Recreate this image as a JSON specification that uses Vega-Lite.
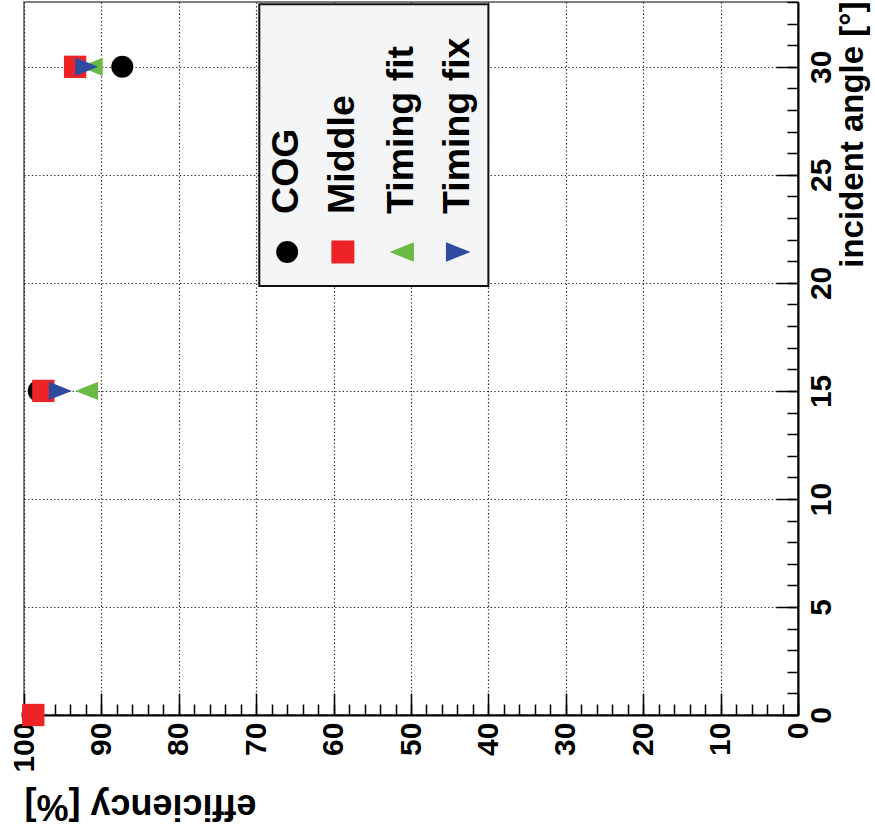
{
  "$schema": "https://vega.github.io/schema/vega-lite/v6.json",
  "width": 774,
  "height": 713,
  "autosize": {"type": "none"},
  "padding": {"left": 24, "top": 2, "right": 77, "bottom": 122},
  "background": "white",
  "config": {
    "view": {"stroke": "#555555", "strokeWidth": 1.5},
    "axis": {
      "labelFont": "Liberation Sans",
      "labelFontWeight": "bold",
      "labelColor": "black",
      "titleFont": "Liberation Sans",
      "titleFontWeight": "bold",
      "titleColor": "black",
      "domainColor": "black",
      "tickColor": "black",
      "labelOverlap": false,
      "labelBound": false,
      "labelFlush": false
    }
  },
  "datasets": {
    "eff": [
      {"angle": 0, "method": "COG", "efficiency": 98.9},
      {"angle": 0, "method": "Middle", "efficiency": 98.8},
      {"angle": 15, "method": "COG", "efficiency": 98.1},
      {"angle": 15, "method": "Middle", "efficiency": 97.5},
      {"angle": 15, "method": "Timing fit", "efficiency": 91.9},
      {"angle": 15, "method": "Timing fix", "efficiency": 95.3},
      {"angle": 30, "method": "COG", "efficiency": 87.3},
      {"angle": 30, "method": "Middle", "efficiency": 93.4},
      {"angle": 30, "method": "Timing fit", "efficiency": 91.3},
      {"angle": 30, "method": "Timing fix", "efficiency": 91.9}
    ]
  },
  "resolve": {"axis": {"x": "independent", "y": "independent"}},
  "layer": [
    {
      "description": "minor ticks only",
      "data": {"name": "eff"},
      "mark": {"type": "point", "opacity": 0},
      "encoding": {
        "x": {
          "field": "efficiency", "type": "quantitative",
          "scale": {"domain": [0, 100], "reverse": true, "nice": false, "zero": false},
          "axis": {
            "orient": "bottom", "title": null, "labels": false, "domain": false, "grid": false,
            "values": [0,2,4,6,8,10,12,14,16,18,20,22,24,26,28,30,32,34,36,38,40,42,44,46,48,50,52,54,56,58,60,62,64,66,68,70,72,74,76,78,80,82,84,86,88,90,92,94,96,98,100],
            "tickSize": -11, "tickWidth": 1.5
          }
        },
        "y": {
          "field": "angle", "type": "quantitative",
          "scale": {"domain": [0, 33], "nice": false, "zero": false},
          "axis": {
            "orient": "right", "title": null, "labels": false, "domain": false, "grid": false,
            "values": [0,1,2,3,4,5,6,7,8,9,10,11,12,13,14,15,16,17,18,19,20,21,22,23,24,25,26,27,28,29,30,31,32,33],
            "tickSize": -11, "tickWidth": 1.5
          }
        }
      }
    },
    {
      "description": "efficiency per method and incident angle",
      "data": {"name": "eff"},
      "mark": {"type": "point", "filled": true, "opacity": 1, "strokeWidth": 0},
      "encoding": {
        "x": {
          "field": "efficiency", "type": "quantitative",
          "axis": {
            "orient": "bottom",
            "values": [0, 10, 20, 30, 40, 50, 60, 70, 80, 90, 100],
            "tickSize": -22, "tickWidth": 1.5,
            "domainWidth": 2,
            "grid": true, "gridColor": "#222222", "gridDash": [1.3, 2.4], "gridWidth": 1.2, "gridOpacity": 1,
            "labelFontSize": 30, "labelAngle": 270, "labelAlign": "right", "labelBaseline": "middle", "labelPadding": 29,
            "title": "efficiency [%]", "titleFontSize": 36, "titleAngle": 180,
            "titleAlign": "right", "titleBaseline": "alphabetic", "titleX": 0, "titleY": 79
          }
        },
        "y": {
          "field": "angle", "type": "quantitative",
          "axis": {
            "orient": "right",
            "values": [0, 5, 10, 15, 20, 25, 30],
            "tickSize": -22, "tickWidth": 1.5,
            "domainWidth": 2,
            "grid": true, "gridColor": "#222222", "gridDash": [1.3, 2.4], "gridWidth": 1.2, "gridOpacity": 1,
            "labelFontSize": 30, "labelAngle": 270, "labelAlign": "center", "labelBaseline": "top", "labelPadding": 30,
            "title": "incident angle [°]", "titleFontSize": 33, "titleAngle": 270,
            "titleAlign": "right", "titleBaseline": "alphabetic", "titleX": 64, "titleY": -1
          }
        },
        "color": {
          "field": "method", "type": "nominal", "legend": null,
          "scale": {"domain": ["COG", "Middle", "Timing fit", "Timing fix"], "range": ["#000000", "#ee2326", "#6bba45", "#2e4b9f"]}
        },
        "shape": {
          "field": "method", "type": "nominal", "legend": null,
          "scale": {"domain": ["COG", "Middle", "Timing fit", "Timing fix"], "range": ["circle", "square", "M1,-0.8L-1,0L1,0.8Z", "M-1,-0.8L1,0L-1,0.8Z"]}
        },
        "size": {
          "field": "method", "type": "nominal", "legend": null,
          "scale": {"domain": ["COG", "Middle", "Timing fit", "Timing fix"], "range": [484, 529, 600, 600]}
        }
      }
    },
    {
      "description": "legend box",
      "data": {"values": [{}]},
      "mark": {"type": "rect", "fill": "#f4f5f7", "stroke": "#111111", "strokeWidth": 2},
      "encoding": {
        "x": {"datum": 69.6, "type": "quantitative", "axis": null},
        "x2": {"datum": 40.0},
        "y": {"datum": 32.9, "type": "quantitative", "axis": null},
        "y2": {"datum": 19.86}
      }
    },
    {
      "data": {"values": [{}]},
      "mark": {"type": "point", "filled": true, "opacity": 1, "strokeWidth": 0, "shape": "circle", "size": 484, "color": "#000000"},
      "encoding": {
        "x": {"datum": 66.0, "type": "quantitative", "axis": null},
        "y": {"datum": 21.43, "type": "quantitative", "axis": null}
      }
    },
    {
      "data": {"values": [{}]},
      "mark": {"type": "point", "filled": true, "opacity": 1, "strokeWidth": 0, "shape": "square", "size": 529, "color": "#ee2326"},
      "encoding": {
        "x": {"datum": 58.8, "type": "quantitative", "axis": null},
        "y": {"datum": 21.43, "type": "quantitative", "axis": null}
      }
    },
    {
      "data": {"values": [{}]},
      "mark": {"type": "point", "filled": true, "opacity": 1, "strokeWidth": 0, "shape": "M1,-0.8L-1,0L1,0.8Z", "size": 600, "color": "#6bba45"},
      "encoding": {
        "x": {"datum": 51.2, "type": "quantitative", "axis": null},
        "y": {"datum": 21.43, "type": "quantitative", "axis": null}
      }
    },
    {
      "data": {"values": [{}]},
      "mark": {"type": "point", "filled": true, "opacity": 1, "strokeWidth": 0, "shape": "M-1,-0.8L1,0L-1,0.8Z", "size": 600, "color": "#2e4b9f"},
      "encoding": {
        "x": {"datum": 43.9, "type": "quantitative", "axis": null},
        "y": {"datum": 21.43, "type": "quantitative", "axis": null}
      }
    },
    {
      "data": {"values": [{}]},
      "mark": {"type": "text", "text": "COG", "font": "Liberation Sans", "fontWeight": "bold", "fontSize": 37.5, "angle": 270, "align": "left", "baseline": "middle", "color": "black"},
      "encoding": {
        "x": {"datum": 66.0, "type": "quantitative", "axis": null},
        "y": {"datum": 23.19, "type": "quantitative", "axis": null}
      }
    },
    {
      "data": {"values": [{}]},
      "mark": {"type": "text", "text": "Middle", "font": "Liberation Sans", "fontWeight": "bold", "fontSize": 37.5, "angle": 270, "align": "left", "baseline": "middle", "color": "black"},
      "encoding": {
        "x": {"datum": 58.8, "type": "quantitative", "axis": null},
        "y": {"datum": 23.19, "type": "quantitative", "axis": null}
      }
    },
    {
      "data": {"values": [{}]},
      "mark": {"type": "text", "text": "Timing fit", "font": "Liberation Sans", "fontWeight": "bold", "fontSize": 37.5, "angle": 270, "align": "left", "baseline": "middle", "color": "black"},
      "encoding": {
        "x": {"datum": 51.2, "type": "quantitative", "axis": null},
        "y": {"datum": 23.19, "type": "quantitative", "axis": null}
      }
    },
    {
      "data": {"values": [{}]},
      "mark": {"type": "text", "text": "Timing fix", "font": "Liberation Sans", "fontWeight": "bold", "fontSize": 37.5, "angle": 270, "align": "left", "baseline": "middle", "color": "black"},
      "encoding": {
        "x": {"datum": 43.9, "type": "quantitative", "axis": null},
        "y": {"datum": 23.19, "type": "quantitative", "axis": null}
      }
    }
  ]
}
